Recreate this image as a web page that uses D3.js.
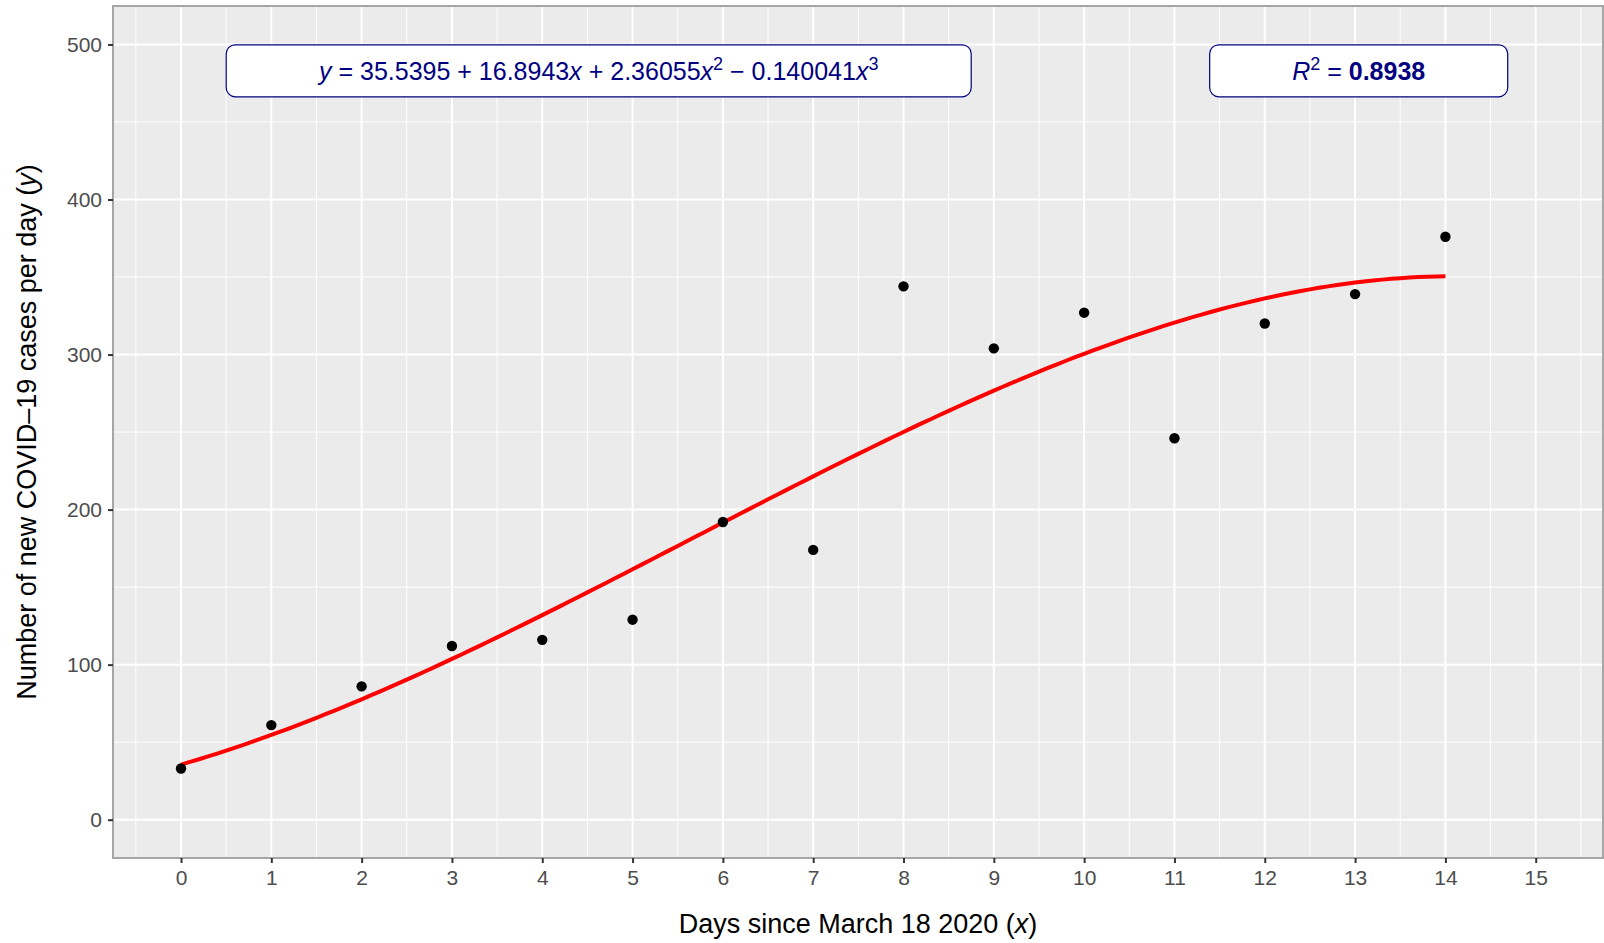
<!DOCTYPE html>
<html>
<head>
<meta charset="utf-8">
<script src="https://cdn.jsdelivr.net/npm/d3@7"></script>
<style>
  body { margin: 0; background: #fff; }
  svg { display: block; }
  text { font-family: "Liberation Sans", Arial, Helvetica, sans-serif; }
</style>
</head>
<body>
<svg id="chart" width="1604" height="943"></svg>
<script>
// data
var days = [0, 1, 2, 3, 4, 5, 6, 7, 8, 9, 10, 11, 12, 13, 14];
var cases = [33, 61, 86, 112, 116, 129, 192, 174, 344, 304, 327, 246, 320, 339, 376];
// fitted cubic shown on the chart: b0 + b1 x + b2 x^2 + b3 x^3
var coefs = [35.5395, 16.8943, 2.36055, -0.140041];
var rSquared = "0.8938";
var xTicks = [0, 1, 2, 3, 4, 5, 6, 7, 8, 9, 10, 11, 12, 13, 14, 15];
var yTicks = [0, 100, 200, 300, 400, 500];

var svg = d3.select("#chart"),
    width = +svg.attr("width"),
    height = +svg.attr("height");

var margin = {top: 6, right: 1, bottom: 85, left: 113};

var x = d3.scaleLinear().domain([-0.753, 15.745]).range([margin.left, width - margin.right]);
var y = d3.scaleLinear().domain([-24.7, 524.8]).range([height - margin.bottom, margin.top]);

var g = svg.append("g");

// panel
g.append("rect")
  .attr("x", x.range()[0]).attr("y", y.range()[1])
  .attr("width", x.range()[1] - x.range()[0])
  .attr("height", y.range()[0] - y.range()[1])
  .attr("fill", "#EBEBEB");

// minor grid
var xMinor = xTicks.map(function(d) { return d - 0.5; }).concat([15.5]);
var yMinor = [50, 150, 250, 350, 450];
g.append("g").selectAll("line").data(xMinor).enter().append("line")
  .attr("x1", function(d) { return x(d); }).attr("x2", function(d) { return x(d); })
  .attr("y1", y.range()[0]).attr("y2", y.range()[1])
  .attr("stroke", "#fff").attr("stroke-width", 1);
g.append("g").selectAll("line").data(yMinor).enter().append("line")
  .attr("y1", function(d) { return y(d); }).attr("y2", function(d) { return y(d); })
  .attr("x1", x.range()[0]).attr("x2", x.range()[1])
  .attr("stroke", "#fff").attr("stroke-width", 1);

// major grid
g.append("g").selectAll("line").data(xTicks).enter().append("line")
  .attr("x1", function(d) { return x(d); }).attr("x2", function(d) { return x(d); })
  .attr("y1", y.range()[0]).attr("y2", y.range()[1])
  .attr("stroke", "#fff").attr("stroke-width", 2);
g.append("g").selectAll("line").data(yTicks).enter().append("line")
  .attr("y1", function(d) { return y(d); }).attr("y2", function(d) { return y(d); })
  .attr("x1", x.range()[0]).attr("x2", x.range()[1])
  .attr("stroke", "#fff").attr("stroke-width", 2);

// fitted curve
function fit(v) {
  return coefs[0] + coefs[1] * v + coefs[2] * v * v + coefs[3] * v * v * v;
}
var curveX = d3.range(0, 14.0001, 0.1);
g.append("path")
  .datum(curveX)
  .attr("fill", "none")
  .attr("stroke", "#FF0000")
  .attr("stroke-width", 4)
  .attr("d", d3.line().x(function(d) { return x(d); }).y(function(d) { return y(fit(d)); }));

// points
g.append("g").selectAll("circle").data(days).enter().append("circle")
  .attr("cx", function(d) { return x(d); })
  .attr("cy", function(d, i) { return y(cases[i]); })
  .attr("r", 5.2)
  .attr("fill", "#000");

// labels
function labelBox(cx, cy, w, h) {
  g.append("rect")
    .attr("x", cx - w / 2).attr("y", cy - h / 2)
    .attr("width", w).attr("height", h)
    .attr("rx", 9).attr("ry", 9)
    .attr("fill", "#fff")
    .attr("stroke", "#000080")
    .attr("stroke-width", 1.2);
}
var labY = y(483);
labelBox(x(4.625), labY, 745, 52);
labelBox(x(13.04), labY, 298, 52);

var eq = g.append("text")
  .attr("x", x(4.625)).attr("y", labY + 9)
  .attr("text-anchor", "middle")
  .attr("fill", "#000080")
  .attr("font-size", 25);
eq.append("tspan").attr("font-style", "italic").text("y");
eq.append("tspan").text(" = " + coefs[0] + " + " + coefs[1]);
eq.append("tspan").attr("font-style", "italic").text("x");
eq.append("tspan").text(" + " + coefs[2]);
eq.append("tspan").attr("font-style", "italic").text("x");
eq.append("tspan").attr("font-size", 18).attr("dy", -10).text("2");
eq.append("tspan").attr("dy", 10).text(" \u2212 " + Math.abs(coefs[3]));
eq.append("tspan").attr("font-style", "italic").text("x");
eq.append("tspan").attr("font-size", 18).attr("dy", -10).text("3");

var r2 = g.append("text")
  .attr("x", x(13.04)).attr("y", labY + 9)
  .attr("text-anchor", "middle")
  .attr("fill", "#000080")
  .attr("font-size", 25);
r2.append("tspan").attr("font-style", "italic").text("R");
r2.append("tspan").attr("font-size", 18).attr("dy", -10).text("2");
r2.append("tspan").attr("dy", 10).text(" = ");
r2.append("tspan").attr("font-weight", "bold").text(rSquared);

// panel border
g.append("rect")
  .attr("x", x.range()[0]).attr("y", y.range()[1])
  .attr("width", x.range()[1] - x.range()[0])
  .attr("height", y.range()[0] - y.range()[1])
  .attr("fill", "none")
  .attr("stroke", "#A6A6A6")
  .attr("stroke-width", 2);

// axes
var xAxis = g.append("g")
  .attr("transform", "translate(0," + y.range()[0] + ")")
  .call(d3.axisBottom(x).tickValues(xTicks).tickSize(5).tickPadding(7).tickSizeOuter(0));
var yAxis = g.append("g")
  .attr("transform", "translate(" + x.range()[0] + ",0)")
  .call(d3.axisLeft(y).tickValues(yTicks).tickSize(5).tickPadding(6).tickSizeOuter(0));
[xAxis, yAxis].forEach(function(a) {
  a.select(".domain").remove();
  a.selectAll(".tick line").attr("stroke", "#333").attr("stroke-width", 2);
  a.selectAll(".tick text")
    .attr("fill", "#4D4D4D")
    .attr("font-size", 21)
    .style("font-family", "'Liberation Sans', Arial, sans-serif");
});

// axis titles
var xt = svg.append("text")
  .attr("x", (x.range()[0] + x.range()[1]) / 2)
  .attr("y", 933)
  .attr("text-anchor", "middle")
  .attr("font-size", 27)
  .attr("fill", "#000");
xt.append("tspan").text("Days since March 18 2020 (");
xt.append("tspan").attr("font-style", "italic").text("x");
xt.append("tspan").text(")");

var yt = svg.append("text")
  .attr("transform", "translate(36," + (y.range()[0] + y.range()[1]) / 2 + ") rotate(-90)")
  .attr("text-anchor", "middle")
  .attr("font-size", 27)
  .attr("fill", "#000");
yt.append("tspan").text("Number of new COVID\u201319 cases per day (");
yt.append("tspan").attr("font-style", "italic").text("y");
yt.append("tspan").text(")");
</script>
</body>
</html>
